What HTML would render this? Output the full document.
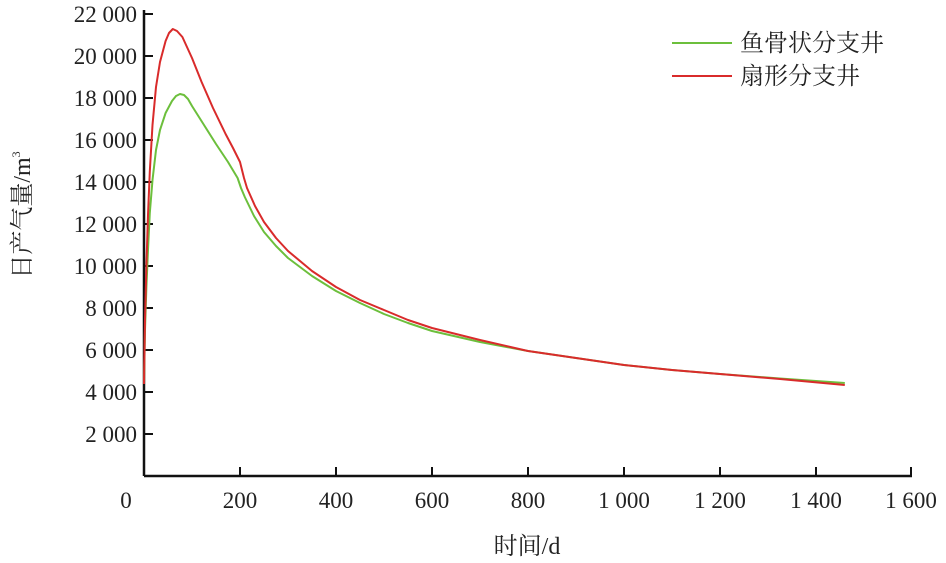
<!DOCTYPE html>
<html><head><meta charset="utf-8"><style>body{margin:0;background:#fff}svg{display:block}</style></head><body>
<svg width="946" height="563" xmlns="http://www.w3.org/2000/svg" font-family="'Liberation Serif','Noto Serif CJK SC',serif" font-size="23" fill="#222">
<g stroke="#111" stroke-width="2.5" fill="none">
<line x1="144" y1="476" x2="912" y2="476"/>
<line x1="144" y1="476" x2="144" y2="10"/>
</g>
<g stroke="#111" stroke-width="2">
<line x1="240" y1="476" x2="240" y2="467"/><line x1="336" y1="476" x2="336" y2="467"/><line x1="432" y1="476" x2="432" y2="467"/><line x1="528" y1="476" x2="528" y2="467"/><line x1="624" y1="476" x2="624" y2="467"/><line x1="720" y1="476" x2="720" y2="467"/><line x1="816" y1="476" x2="816" y2="467"/><line x1="911" y1="476" x2="911" y2="467"/>
<line x1="144" y1="434" x2="153" y2="434"/><line x1="144" y1="392" x2="153" y2="392"/><line x1="144" y1="350" x2="153" y2="350"/><line x1="144" y1="308" x2="153" y2="308"/><line x1="144" y1="266" x2="153" y2="266"/><line x1="144" y1="224" x2="153" y2="224"/><line x1="144" y1="182" x2="153" y2="182"/><line x1="144" y1="140" x2="153" y2="140"/><line x1="144" y1="98" x2="153" y2="98"/><line x1="144" y1="56" x2="153" y2="56"/><line x1="144" y1="14" x2="153" y2="14"/>
</g>
<g text-anchor="end">
<text x="137" y="442">2 000</text><text x="137" y="400">4 000</text><text x="137" y="358">6 000</text><text x="137" y="316">8 000</text><text x="137" y="274">10 000</text><text x="137" y="232">12 000</text><text x="137" y="190">14 000</text><text x="137" y="148">16 000</text><text x="137" y="106">18 000</text><text x="137" y="64">20 000</text><text x="137" y="22">22 000</text>
</g>
<g text-anchor="middle">
<text x="126" y="508">0</text><text x="240" y="508">200</text><text x="336" y="508">400</text><text x="432" y="508">600</text><text x="528" y="508">800</text><text x="624" y="508">1 000</text><text x="720" y="508">1 200</text><text x="816" y="508">1 400</text><text x="911" y="508">1 600</text>
<text x="527" y="554" font-size="24">时间/d</text>
</g>
<text transform="translate(30,215) rotate(-90)" text-anchor="middle" font-size="24">日产气量/m<tspan font-size="12" dy="-10">3</tspan></text>
<polyline fill="none" stroke="#6cbf3c" stroke-width="2" stroke-linejoin="round" points="144,384 145,330 146.4,287 148,250 149.8,213 152.5,180 156,150 160,130 165.6,113 172,101 176,96 180,94 184,95 188,99 192,106 204,125 216,144 228,162 237.6,178 241,188 244.8,197 254,216 264,232 276,246 288,258 312,276 336,291 360,303 384,314 408,323 432,331 480,342 528,351 576,358 624,365 672,370 720,374 780,378.5 844.8,383"/>
<polyline fill="none" stroke="#d92b2b" stroke-width="2" stroke-linejoin="round" points="144,384 145,320 146.4,266 148,215 149.8,171.5 152.5,125 156,87 160,62 165.6,41 169,33 172.8,29 177,31 182.4,37 192,58 201.6,82 213,108 225.6,134 233,148 240,162 244,178 247,188 255,206 264,222 276,238 288,251 312,271 336,287 360,300 384,310 408,320 432,328 480,340 528,351 576,358 624,365 672,370 720,374 780,379 844.8,385"/>
<line x1="672" y1="43" x2="732" y2="43" stroke="#6cbf3c" stroke-width="2"/>
<line x1="672" y1="76" x2="732" y2="76" stroke="#d92b2b" stroke-width="2"/>
<text x="740" y="51" font-size="24">鱼骨状分支井</text>
<text x="740" y="84" font-size="24">扇形分支井</text>
</svg>
</body></html>
